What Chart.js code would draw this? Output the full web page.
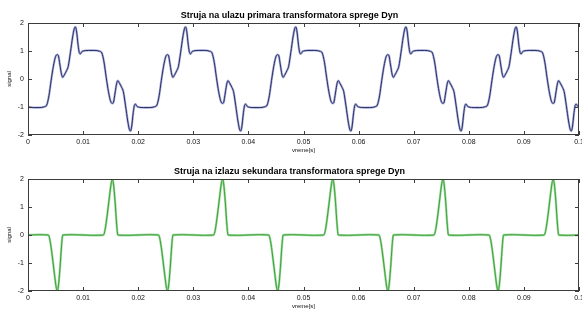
<!DOCTYPE html>
<html>
<head>
<meta charset="utf-8">
<script src="https://cdn.jsdelivr.net/npm/chart.js@4/dist/chart.umd.min.js"></script>
<style>
  html, body { margin: 0; padding: 0; background: #ffffff; }
  #wrap { width: 582px; height: 312px; position: relative; }
  canvas { display: block; }
</style>
</head>
<body>
<div id="wrap">
  <canvas id="topChart" width="582" height="156"></canvas>
  <canvas id="bottomChart" width="582" height="156"></canvas>
</div>
<script>
// values
const topTime = [
  0, 0.001, 0.002, 0.003, 0.0034, 0.0038, 0.0042, 0.0046, 0.005, 0.0053, 0.0055, 0.0058, 0.0061, 0.0063, 0.0066, 0.007, 0.0073, 0.0077, 0.0081, 0.0084, 0.0086, 0.0088, 0.0091, 0.0093, 0.0095, 0.0098,
  0.01, 0.011, 0.012, 0.013, 0.0134, 0.0138, 0.0142, 0.0146, 0.015, 0.0153, 0.0155, 0.0158, 0.0161, 0.0163, 0.0166, 0.017, 0.0173, 0.0177, 0.0181, 0.0184, 0.0186, 0.0188, 0.0191, 0.0193, 0.0195, 0.0198,
  0.02, 0.021, 0.022, 0.023, 0.0234, 0.0238, 0.0242, 0.0246, 0.025, 0.0253, 0.0255, 0.0258, 0.0261, 0.0263, 0.0266, 0.027, 0.0273, 0.0277, 0.0281, 0.0284, 0.0286, 0.0288, 0.0291, 0.0293, 0.0295, 0.0298,
  0.03, 0.031, 0.032, 0.033, 0.0334, 0.0338, 0.0342, 0.0346, 0.035, 0.0353, 0.0355, 0.0358, 0.0361, 0.0363, 0.0366, 0.037, 0.0373, 0.0377, 0.0381, 0.0384, 0.0386, 0.0388, 0.0391, 0.0393, 0.0395, 0.0398,
  0.04, 0.041, 0.042, 0.043, 0.0434, 0.0438, 0.0442, 0.0446, 0.045, 0.0453, 0.0455, 0.0458, 0.0461, 0.0463, 0.0466, 0.047, 0.0473, 0.0477, 0.0481, 0.0484, 0.0486, 0.0488, 0.0491, 0.0493, 0.0495, 0.0498,
  0.05, 0.051, 0.052, 0.053, 0.0534, 0.0538, 0.0542, 0.0546, 0.055, 0.0553, 0.0555, 0.0558, 0.0561, 0.0563, 0.0566, 0.057, 0.0573, 0.0577, 0.0581, 0.0584, 0.0586, 0.0588, 0.0591, 0.0593, 0.0595, 0.0598,
  0.06, 0.061, 0.062, 0.063, 0.0634, 0.0638, 0.0642, 0.0646, 0.065, 0.0653, 0.0655, 0.0658, 0.0661, 0.0663, 0.0666, 0.067, 0.0673, 0.0677, 0.0681, 0.0684, 0.0686, 0.0688, 0.0691, 0.0693, 0.0695, 0.0698,
  0.07, 0.071, 0.072, 0.073, 0.0734, 0.0738, 0.0742, 0.0746, 0.075, 0.0753, 0.0755, 0.0758, 0.0761, 0.0763, 0.0766, 0.077, 0.0773, 0.0777, 0.0781, 0.0784, 0.0786, 0.0788, 0.0791, 0.0793, 0.0795, 0.0798,
  0.08, 0.081, 0.082, 0.083, 0.0834, 0.0838, 0.0842, 0.0846, 0.085, 0.0853, 0.0855, 0.0858, 0.0861, 0.0863, 0.0866, 0.087, 0.0873, 0.0877, 0.0881, 0.0884, 0.0886, 0.0888, 0.0891, 0.0893, 0.0895, 0.0898,
  0.09, 0.091, 0.092, 0.093, 0.0934, 0.0938, 0.0942, 0.0946, 0.095, 0.0953, 0.0955, 0.0958, 0.0961, 0.0963, 0.0966, 0.097, 0.0973, 0.0977, 0.0981, 0.0984, 0.0986, 0.0988, 0.0991, 0.0993, 0.0995, 0.0998,
  0.1
];
const topSignal = [
  -1.0, -1.02, -1.02, -0.99, -0.93, -0.6, -0.05, 0.45, 0.8, 0.87, 0.84, 0.5, 0.15, 0.06, 0.15, 0.3, 0.45, 0.95, 1.5, 1.8, 1.86, 1.72, 1.2, 0.95, 0.9, 0.98,
  1.0, 1.02, 1.02, 0.99, 0.93, 0.6, 0.05, -0.45, -0.8, -0.87, -0.84, -0.5, -0.15, -0.06, -0.15, -0.3, -0.45, -0.95, -1.5, -1.8, -1.86, -1.72, -1.2, -0.95, -0.9, -0.98,
  -1.0, -1.02, -1.02, -0.99, -0.93, -0.6, -0.05, 0.45, 0.8, 0.87, 0.84, 0.5, 0.15, 0.06, 0.15, 0.3, 0.45, 0.95, 1.5, 1.8, 1.86, 1.72, 1.2, 0.95, 0.9, 0.98,
  1.0, 1.02, 1.02, 0.99, 0.93, 0.6, 0.05, -0.45, -0.8, -0.87, -0.84, -0.5, -0.15, -0.06, -0.15, -0.3, -0.45, -0.95, -1.5, -1.8, -1.86, -1.72, -1.2, -0.95, -0.9, -0.98,
  -1.0, -1.02, -1.02, -0.99, -0.93, -0.6, -0.05, 0.45, 0.8, 0.87, 0.84, 0.5, 0.15, 0.06, 0.15, 0.3, 0.45, 0.95, 1.5, 1.8, 1.86, 1.72, 1.2, 0.95, 0.9, 0.98,
  1.0, 1.02, 1.02, 0.99, 0.93, 0.6, 0.05, -0.45, -0.8, -0.87, -0.84, -0.5, -0.15, -0.06, -0.15, -0.3, -0.45, -0.95, -1.5, -1.8, -1.86, -1.72, -1.2, -0.95, -0.9, -0.98,
  -1.0, -1.02, -1.02, -0.99, -0.93, -0.6, -0.05, 0.45, 0.8, 0.87, 0.84, 0.5, 0.15, 0.06, 0.15, 0.3, 0.45, 0.95, 1.5, 1.8, 1.86, 1.72, 1.2, 0.95, 0.9, 0.98,
  1.0, 1.02, 1.02, 0.99, 0.93, 0.6, 0.05, -0.45, -0.8, -0.87, -0.84, -0.5, -0.15, -0.06, -0.15, -0.3, -0.45, -0.95, -1.5, -1.8, -1.86, -1.72, -1.2, -0.95, -0.9, -0.98,
  -1.0, -1.02, -1.02, -0.99, -0.93, -0.6, -0.05, 0.45, 0.8, 0.87, 0.84, 0.5, 0.15, 0.06, 0.15, 0.3, 0.45, 0.95, 1.5, 1.8, 1.86, 1.72, 1.2, 0.95, 0.9, 0.98,
  1.0, 1.02, 1.02, 0.99, 0.93, 0.6, 0.05, -0.45, -0.8, -0.87, -0.84, -0.5, -0.15, -0.06, -0.15, -0.3, -0.45, -0.95, -1.5, -1.8, -1.86, -1.72, -1.2, -0.95, -0.9, -0.98,
  -1.0
];

const bottomTime = [
  0, 0.002, 0.0037, 0.004, 0.0044, 0.0048, 0.0051, 0.0053, 0.0055, 0.0058, 0.0061, 0.0063, 0.008,
  0.01, 0.012, 0.0137, 0.014, 0.0144, 0.0148, 0.0151, 0.0153, 0.0155, 0.0158, 0.0161, 0.0163, 0.018,
  0.02, 0.022, 0.0237, 0.024, 0.0244, 0.0248, 0.0251, 0.0253, 0.0255, 0.0258, 0.0261, 0.0263, 0.028,
  0.03, 0.032, 0.0337, 0.034, 0.0344, 0.0348, 0.0351, 0.0353, 0.0355, 0.0358, 0.0361, 0.0363, 0.038,
  0.04, 0.042, 0.0437, 0.044, 0.0444, 0.0448, 0.0451, 0.0453, 0.0455, 0.0458, 0.0461, 0.0463, 0.048,
  0.05, 0.052, 0.0537, 0.054, 0.0544, 0.0548, 0.0551, 0.0553, 0.0555, 0.0558, 0.0561, 0.0563, 0.058,
  0.06, 0.062, 0.0637, 0.064, 0.0644, 0.0648, 0.0651, 0.0653, 0.0655, 0.0658, 0.0661, 0.0663, 0.068,
  0.07, 0.072, 0.0737, 0.074, 0.0744, 0.0748, 0.0751, 0.0753, 0.0755, 0.0758, 0.0761, 0.0763, 0.078,
  0.08, 0.082, 0.0837, 0.084, 0.0844, 0.0848, 0.0851, 0.0853, 0.0855, 0.0858, 0.0861, 0.0863, 0.088,
  0.09, 0.092, 0.0937, 0.094, 0.0944, 0.0948, 0.0951, 0.0953, 0.0955, 0.0958, 0.0961, 0.0963, 0.098,
  0.1
];
const bottomSignal = [
  0, 0.01, 0, -0.2, -0.75, -1.4, -1.85, -2.0, -1.85, -1.2, -0.35, 0, 0.01,
  0, -0.01, 0, 0.2, 0.75, 1.4, 1.85, 2.0, 1.85, 1.2, 0.35, 0, -0.01,
  0, 0.01, 0, -0.2, -0.75, -1.4, -1.85, -2.0, -1.85, -1.2, -0.35, 0, 0.01,
  0, -0.01, 0, 0.2, 0.75, 1.4, 1.85, 2.0, 1.85, 1.2, 0.35, 0, -0.01,
  0, 0.01, 0, -0.2, -0.75, -1.4, -1.85, -2.0, -1.85, -1.2, -0.35, 0, 0.01,
  0, -0.01, 0, 0.2, 0.75, 1.4, 1.85, 2.0, 1.85, 1.2, 0.35, 0, -0.01,
  0, 0.01, 0, -0.2, -0.75, -1.4, -1.85, -2.0, -1.85, -1.2, -0.35, 0, 0.01,
  0, -0.01, 0, 0.2, 0.75, 1.4, 1.85, 2.0, 1.85, 1.2, 0.35, 0, -0.01,
  0, 0.01, 0, -0.2, -0.75, -1.4, -1.85, -2.0, -1.85, -1.2, -0.35, 0, 0.01,
  0, -0.01, 0, 0.2, 0.75, 1.4, 1.85, 2.0, 1.85, 1.2, 0.35, 0, -0.01,
  0
];

const xMin = 0, xMax = 0.1, xStep = 0.01;
const yMin = -2, yMax = 2, yStep = 1;
const xLabel = 'vreme[s]';
const yLabel = 'signal';
const topTitle = 'Struja na ulazu primara transformatora sprege Dyn';
const bottomTitle = 'Struja na izlazu sekundara transformatora sprege Dyn';

const FONT = "'Liberation Sans', Arial, sans-serif";

// box around the plot with inward tick marks, matlab style
const matlabFrame = {
    id: 'matlabFrame',
    afterDatasetsDraw(chart) {
        const { ctx, chartArea: a, scales } = chart;
        const x = scales.x, y = scales.y;
        ctx.save();
        ctx.strokeStyle = '#3c3c3c';
        ctx.lineWidth = 1;
        ctx.strokeRect(a.left + 0.5, a.top + 0.5, a.right - a.left - 1, a.bottom - a.top - 1);
        ctx.beginPath();
        x.ticks.forEach(t => {
            const px = Math.round(x.getPixelForValue(t.value)) + 0.5;
            ctx.moveTo(px, a.bottom); ctx.lineTo(px, a.bottom - 4);
            ctx.moveTo(px, a.top); ctx.lineTo(px, a.top + 4);
        });
        y.ticks.forEach(t => {
            const py = Math.round(y.getPixelForValue(t.value)) + 0.5;
            ctx.moveTo(a.left, py); ctx.lineTo(a.left + 4, py);
            ctx.moveTo(a.right, py); ctx.lineTo(a.right - 4, py);
        });
        ctx.stroke();
        ctx.restore();
    }
};

function toPoints(times, values) {
    return times.map((t, i) => ({ x: t, y: values[i] }));
}

function makeChart(id, title, times, values, halo, core) {
    // dataset 0 is painted last, so the thin dark core goes first
    return new Chart(document.getElementById(id), {
        type: 'line',
        data: {
            datasets: [
                { data: toPoints(times, values), borderColor: core, borderWidth: 1, pointRadius: 0, cubicInterpolationMode: 'monotone' },
                { data: toPoints(times, values), borderColor: halo, borderWidth: 2.3, pointRadius: 0, cubicInterpolationMode: 'monotone' }
            ]
        },
        options: {
            responsive: false,
            animation: false,
            events: [],
            layout: { padding: { left: 0, right: 3, top: 0, bottom: 0 } },
            scales: {
                x: {
                    type: 'linear',
                    min: xMin, max: xMax,
                    grid: { display: false, drawTicks: false },
                    border: { display: false },
                    afterFit(scale) { scale.height = 21; scale.paddingLeft = 0; scale.paddingRight = 0; },
                    ticks: {
                        stepSize: xStep,
                        maxRotation: 0,
                        autoSkip: false,
                        padding: 3,
                        color: '#111',
                        font: { family: FONT, size: 7 },
                        callback: v => String(Number(v.toFixed(2)))
                    },
                    title: {
                        display: true, text: xLabel, color: '#111',
                        font: { family: FONT, size: 6 },
                        padding: { top: 0, bottom: 2 }
                    }
                },
                y: {
                    min: yMin, max: yMax,
                    grid: { display: false, drawTicks: false },
                    border: { display: false },
                    afterFit(scale) { scale.width = 28; scale.paddingTop = 0; scale.paddingBottom = 0; },
                    ticks: {
                        stepSize: yStep,
                        padding: 4,
                        color: '#111',
                        font: { family: FONT, size: 7 }
                    },
                    title: {
                        display: true, text: yLabel, color: '#111',
                        font: { family: FONT, size: 6 },
                        padding: { top: 6, bottom: 0 }
                    }
                }
            },
            plugins: {
                legend: { display: false },
                tooltip: { enabled: false },
                title: {
                    display: true,
                    text: title,
                    color: '#000',
                    font: { family: FONT, size: 9, weight: 'bold' },
                    padding: { top: 10, bottom: 2.2 }
                }
            }
        },
        plugins: [matlabFrame]
    });
}

makeChart('topChart', topTitle, topTime, topSignal, '#a9b0d8', '#2a2d66');
makeChart('bottomChart', bottomTitle, bottomTime, bottomSignal, '#9bdc98', '#3e9e3e');
</script>
</body>
</html>
